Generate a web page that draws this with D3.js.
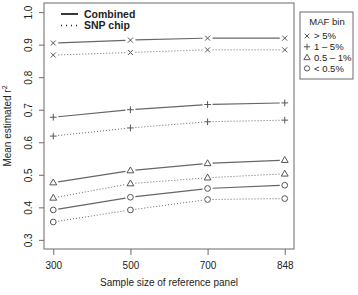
<!DOCTYPE html>
<html>
<head>
<meta charset="utf-8">
<script src="https://cdn.jsdelivr.net/npm/d3@7"></script>
<style>
  body { margin: 0; background: #fff; }
  text { font-family: "Liberation Sans", Arial, sans-serif; fill: #222; }
</style>
</head>
<body>
<div id="chart"></div>
<script>
const sampleSizes = ['300', '500', '700', '848'];
const mafBins = ['> 5%', '1 \u2013 5%', '0.5 \u2013 1%', '< 0.5%'];
const binShapes = ['x', 'plus', 'triangle', 'circle'];

// mean estimated r2, one array per MAF bin
const combined = [
  [0.905, 0.914, 0.920, 0.920],
  [0.677, 0.700, 0.716, 0.721],
  [0.476, 0.513, 0.535, 0.545],
  [0.392, 0.431, 0.458, 0.468],
];
const snpChip = [
  [0.868, 0.876, 0.884, 0.884],
  [0.619, 0.644, 0.663, 0.668],
  [0.429, 0.473, 0.491, 0.503],
  [0.355, 0.392, 0.424, 0.427],
];
const yTicks = [0.3, 0.4, 0.5, 0.6, 0.7, 0.8, 0.9, 1.0];

const width = 358;
const height = 295;
const margin = { top: 3, right: 64, bottom: 46, left: 44 };
const plotW = width - margin.left - margin.right;
const plotH = height - margin.top - margin.bottom;

const svg = d3.select('#chart').append('svg')
  .attr('width', width)
  .attr('height', height);

const g = svg.append('g')
  .attr('transform', `translate(${margin.left},${margin.top})`);

// R style 4% axis extension
const x = d3.scaleLinear().domain([0.88, 4.12]).range([0, plotW]);
const y = d3.scaleLinear().domain([0.272, 1.028]).range([plotH, 0]);

const lineCol = '#666';
const axisCol = '#6a6a6a';

const symbolPath = (shape, s) => {
  switch (shape) {
    case 'x':
      return `M${-s},${-s}L${s},${s}M${-s},${s}L${s},${-s}`;
    case 'plus':
      return `M${-s * 1.35},0L${s * 1.35},0M0,${-s * 1.35}L0,${s * 1.35}`;
    case 'triangle': {
      const r = s * 1.45;
      return `M0,${-r}L${r * 0.95},${r * 0.62}L${-r * 0.95},${r * 0.62}Z`;
    }
    default:
      return d3.arc()({ innerRadius: 0, outerRadius: s * 1.15, startAngle: 0, endAngle: 2 * Math.PI });
  }
};

// box
g.append('rect')
  .attr('width', plotW)
  .attr('height', plotH)
  .attr('fill', 'none')
  .attr('stroke', axisCol)
  .attr('stroke-width', 1);

// x axis
const xAxis = g.append('g')
  .attr('transform', `translate(0,${plotH})`)
  .call(d3.axisBottom(x).tickValues([1, 2, 3, 4]).tickSize(6).tickPadding(7)
    .tickFormat((d) => sampleSizes[d - 1]));
xAxis.select('.domain').remove();
xAxis.selectAll('line').attr('stroke', axisCol);
xAxis.selectAll('text').attr('font-size', 10).attr('fill', '#222');

// y axis with rotated labels
const yAxis = g.append('g')
  .call(d3.axisLeft(y).tickValues(yTicks).tickSize(5).tickFormat(d3.format('.1f')));
yAxis.select('.domain').remove();
yAxis.selectAll('line').attr('stroke', axisCol);
yAxis.selectAll('text')
  .attr('font-size', 10)
  .attr('fill', '#222')
  .attr('x', null)
  .attr('dy', null)
  .attr('text-anchor', 'middle')
  .attr('transform', 'translate(-12,0) rotate(-90)');

// series lines with gaps around the points (type = "b")
const gap = 5;
const drawSeries = (data, dash) => {
  data.forEach((vals, bi) => {
    const pts = vals.map((v, i) => [x(i + 1), y(v)]);
    for (let i = 0; i < pts.length - 1; i += 1) {
      const [x1, y1] = pts[i];
      const [x2, y2] = pts[i + 1];
      const len = Math.hypot(x2 - x1, y2 - y1);
      const ux = (x2 - x1) / len;
      const uy = (y2 - y1) / len;
      g.append('line')
        .attr('x1', x1 + ux * gap)
        .attr('y1', y1 + uy * gap)
        .attr('x2', x2 - ux * gap)
        .attr('y2', y2 - uy * gap)
        .attr('stroke', lineCol)
        .attr('stroke-width', dash ? 1 : 1.2)
        .attr('stroke-dasharray', dash || null);
    }
    g.append('g').selectAll('path')
      .data(pts)
      .enter()
      .append('path')
      .attr('transform', (d) => `translate(${d[0]},${d[1]})`)
      .attr('d', symbolPath(binShapes[bi], 2.5))
      .attr('fill', 'none')
      .attr('stroke', '#555')
      .attr('stroke-width', 1);
  });
};

drawSeries(combined, null);
drawSeries(snpChip, '1,2');

// line type legend in the plot
const lt = g.append('g').attr('transform', 'translate(17,11)');
[['Combined', null], ['SNP chip', '1,4']].forEach(([label, dash], i) => {
  lt.append('line')
    .attr('x1', 0).attr('x2', 17)
    .attr('y1', i * 11.5).attr('y2', i * 11.5)
    .attr('stroke', '#222')
    .attr('stroke-width', dash ? 1.3 : 1.8)
    .attr('stroke-dasharray', dash);
  lt.append('text')
    .attr('x', 23)
    .attr('y', i * 11.5)
    .attr('dy', '0.35em')
    .attr('font-size', 10.5)
    .attr('font-weight', 'bold')
    .text(label);
});

// MAF bin legend
const lg = svg.append('g').attr('transform', 'translate(300,12)');
lg.append('rect')
  .attr('width', 53)
  .attr('height', 67)
  .attr('fill', '#fff')
  .attr('stroke', axisCol);
lg.append('text')
  .attr('x', 27)
  .attr('y', 13)
  .attr('text-anchor', 'middle')
  .attr('font-size', 9.5)
  .text('MAF bin');
mafBins.forEach((label, i) => {
  const cy = 24 + i * 10.8;
  lg.append('path')
    .attr('transform', `translate(7,${cy})`)
    .attr('d', symbolPath(binShapes[i], 2.3))
    .attr('fill', 'none')
    .attr('stroke', '#555');
  lg.append('text')
    .attr('x', 14)
    .attr('y', cy)
    .attr('dy', '0.35em')
    .attr('font-size', 9.5)
    .text(label);
});

// axis titles
svg.append('text')
  .attr('x', margin.left + plotW / 2)
  .attr('y', 286)
  .attr('text-anchor', 'middle')
  .attr('font-size', 10)
  .text('Sample size of reference panel');

const yt = svg.append('text')
  .attr('transform', `translate(11,${margin.top + plotH / 2}) rotate(-90)`)
  .attr('text-anchor', 'middle')
  .attr('font-size', 10);
yt.append('tspan').text('Mean estimated r');
yt.append('tspan').attr('font-size', 7).attr('dy', -4).text('2');
</script>
</body>
</html>
